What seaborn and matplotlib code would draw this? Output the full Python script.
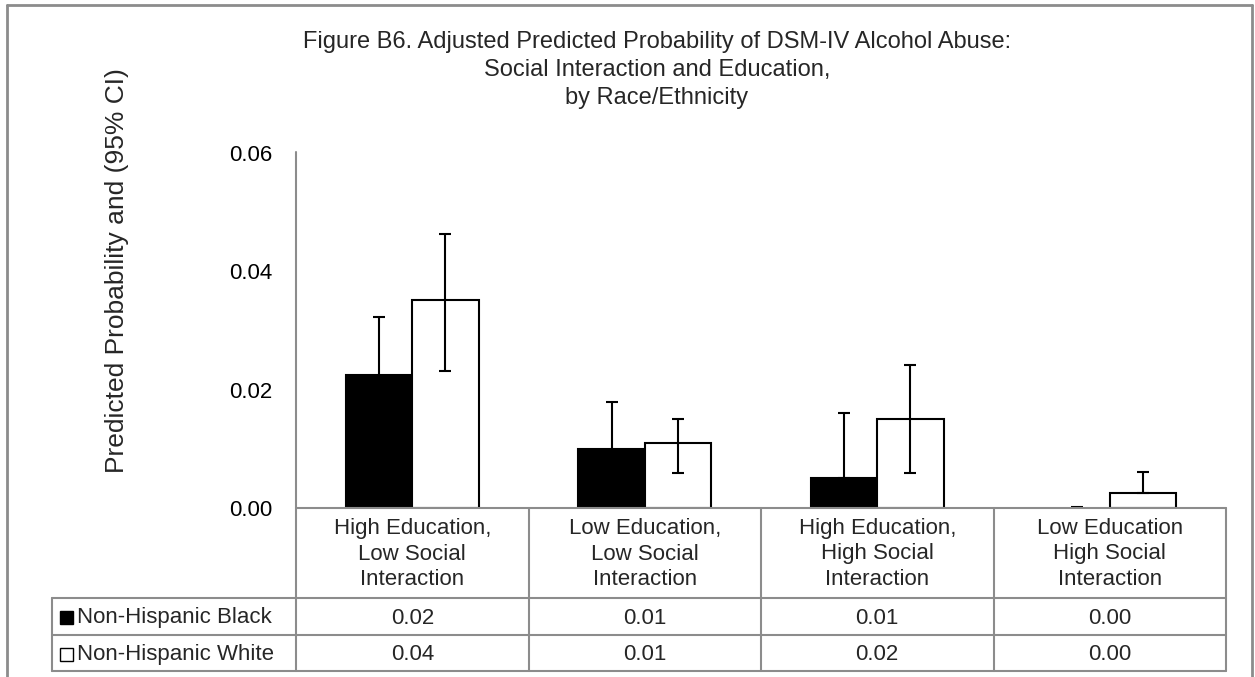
import matplotlib
matplotlib.use("Agg")
import matplotlib.pyplot as plt
from matplotlib.lines import Line2D
from matplotlib.patches import Rectangle
import seaborn as sns
import pandas as pd

# ---- data -------------------------------------------------------------
categories = [
    "High Education,\nLow Social\nInteraction",
    "Low Education,\nLow Social\nInteraction",
    "High Education,\nHigh Social\nInteraction",
    "Low Education\nHigh Social\nInteraction",
]
groups = ["Non-Hispanic Black", "Non-Hispanic White"]

black_prob = [0.0225, 0.0099, 0.0051, 0.0000]
black_lo = [0.0128, 0.0018, 0.0050, 0.0000]
black_hi = [0.0322, 0.0180, 0.0160, 0.0002]

white_prob = [0.0352, 0.0110, 0.0151, 0.0026]
white_lo = [0.0231, 0.0060, 0.0060, 0.0026]
white_hi = [0.0463, 0.0150, 0.0242, 0.0061]

y_ticks = [0.00, 0.02, 0.04, 0.06]

title = ("Figure B6. Adjusted Predicted Probability of DSM-IV Alcohol Abuse:\n"
         "Social Interaction and Education,\n"
         "by Race/Ethnicity")
y_label = "Predicted Probability and (95% CI)"

# ---- long-format table for seaborn -----------------------------------
df = pd.DataFrame({
    "category": categories * 2,
    "group": [groups[0]] * 4 + [groups[1]] * 4,
    "prob": black_prob + white_prob,
})
ci_low = {groups[0]: black_lo, groups[1]: white_lo}
ci_high = {groups[0]: black_hi, groups[1]: white_hi}
probs = {groups[0]: black_prob, groups[1]: white_prob}

sns.set_theme(style="white")
plt.rcParams["font.family"] = ["Liberation Sans", "DejaVu Sans"]

W, H = 1255, 677
fig = plt.figure(figsize=(W / 100, H / 100), dpi=100)
fig.patch.set_facecolor("white")


def fx(x):
    return x / W


def fy(y):
    return 1 - y / H


GRID = "#8c8c8c"

# plot area
left, right, top, base = 296, 1226, 153, 508
ax = fig.add_axes([fx(left), fy(base), fx(right - left), (base - top) / H])

sns.barplot(data=df, x="category", y="prob", hue="group",
            order=categories, hue_order=groups,
            palette=["black", "white"], saturation=1,
            edgecolor="black", linewidth=1.5, width=0.57,
            errorbar=None, legend=False, ax=ax)

# confidence intervals
for g, container in zip(groups, ax.containers):
    for bar, v, lo, hi in zip(container, probs[g], ci_low[g], ci_high[g]):
        if bar.get_height() == 0:
            bar.set_linewidth(0)
        xc = bar.get_x() + bar.get_width() / 2
        ax.errorbar(xc, v, yerr=[[v - lo], [hi - v]], fmt="none",
                    ecolor="black", elinewidth=1.5, capsize=4.5,
                    capthick=1.5, zorder=5)

ax.set_xlim(-0.5, len(categories) - 0.5)
ax.set_ylim(0, 0.06)
ax.set_yticks(y_ticks)
ax.set_yticklabels([f"{t:.2f}" for t in y_ticks], fontsize=16)
ax.tick_params(axis="y", length=0, pad=17, colors="black")
ax.set_xticks([])
ax.set_xlabel("")
ax.set_ylabel("")
for s in ["top", "right", "bottom", "left"]:
    ax.spines[s].set_visible(False)
ax.set_facecolor("white")


def hline(x0, x1, y, color=GRID, lw=1.5):
    fig.add_artist(Line2D([fx(x0), fx(x1)], [fy(y), fy(y)],
                          color=color, lw=lw, transform=fig.transFigure))


def vline(x, y0, y1, color=GRID, lw=1.5):
    fig.add_artist(Line2D([fx(x), fx(x)], [fy(y0), fy(y1)],
                          color=color, lw=lw, transform=fig.transFigure))


# value axis line
vline(left, 152, 671)

# data table under the bars
legend_left = 52
row_lines = [598, 635, 671]
col_w = (right - left) / len(categories)
hline(left, right, base)
for y in row_lines:
    hline(legend_left, right, y)
vline(legend_left, row_lines[0], row_lines[-1])
for i in range(1, len(categories) + 1):
    vline(left + i * col_w, base, row_lines[-1])

for i, cat in enumerate(categories):
    cx = left + (i + 0.5) * col_w
    fig.text(fx(cx), fy((base + row_lines[0]) / 2 + 1), cat, ha="center",
             va="center", fontsize=16, linespacing=1.3)
    for r, g in enumerate(groups):
        cy = (row_lines[r] + row_lines[r + 1]) / 2 + 1.5
        fig.text(fx(cx), fy(cy), f"{probs[g][i]:.2f}", ha="center",
                 va="center", fontsize=16)

# legend keys in the table
for r, (g, fc) in enumerate(zip(groups, ["black", "white"])):
    cy = (row_lines[r] + row_lines[r + 1]) / 2 + 1
    fig.add_artist(Rectangle((fx(60), fy(cy + 6.5)), 13 / W, 13 / H,
                             facecolor=fc, edgecolor="black", lw=1,
                             transform=fig.transFigure))
    fig.text(fx(77), fy(cy + 0.5), g, ha="left", va="center", fontsize=16)

# titles
fig.text(fx(657), fy(70), title, ha="center", va="center", fontsize=17,
         linespacing=1.34)
fig.text(fx(117), fy(271), y_label, ha="center", va="center",
         rotation=90, fontsize=19)

# chart frame
hline(7, 1252, 5, lw=2)
vline(7, 5, 677, lw=2)
vline(1252, 5, 677, lw=2)

fig.savefig("out.png", dpi=100, facecolor="white")
